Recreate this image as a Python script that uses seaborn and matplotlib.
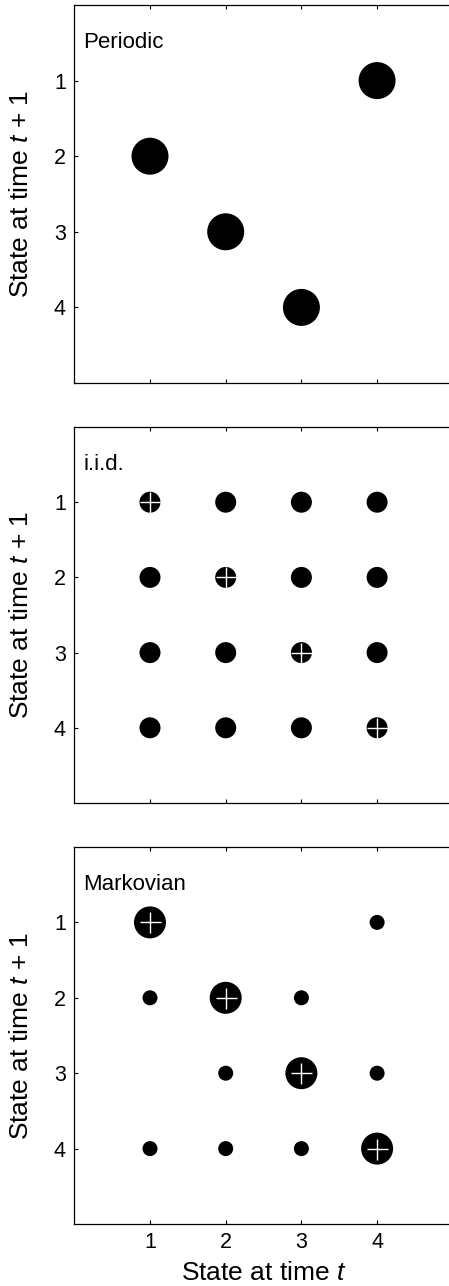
import numpy as np
import pandas as pd
import seaborn as sns
import matplotlib.pyplot as plt

states = [1, 2, 3, 4]

# transition probabilities P[next][current]
periodic = [[0, 0, 0, 1],
            [1, 0, 0, 0],
            [0, 1, 0, 0],
            [0, 0, 1, 0]]
iid = [[0.25, 0.25, 0.25, 0.25],
       [0.25, 0.25, 0.25, 0.25],
       [0.25, 0.25, 0.25, 0.25],
       [0.25, 0.25, 0.25, 0.25]]
markov = [[0.8, 0.0, 0.0, 0.1],
          [0.1, 0.8, 0.1, 0.0],
          [0.0, 0.1, 0.8, 0.1],
          [0.1, 0.1, 0.1, 0.8]]

panel_names = ["Periodic", "i.i.d.", "Markovian"]
cross_panels = [False, True, True]

# marker diameter (px) for each probability
diam_px = {1.0: 37, 0.8: 32, 0.25: 21, 0.1: 15}

def to_frame(mat):
    rows = []
    for i, nxt in enumerate(states):
        for j, cur in enumerate(states):
            p = mat[i][j]
            if p > 0:
                rows.append({"t": cur, "t1": nxt, "p": p})
    return pd.DataFrame(rows)

sns.set_theme(style="ticks")
plt.rcParams['font.family'] = ['Liberation Sans', 'DejaVu Sans']
plt.rcParams['mathtext.fontset'] = 'custom'
plt.rcParams['mathtext.it'] = 'Liberation Sans:italic'
plt.rcParams['mathtext.rm'] = 'Liberation Sans'
plt.rcParams['text.color'] = 'black'
plt.rcParams['axes.labelcolor'] = 'black'

W, H = 449, 1286
fig = plt.figure(figsize=(W / 100, H / 100), dpi=100)

panel_px = [(5, 383), (427, 803), (847, 1224)]
ax_left, ax_w = 74.3, 378.5

for k, mat in enumerate([periodic, iid, markov]):
    top, bot = panel_px[k]
    ax = fig.add_axes([ax_left / W, 1 - bot / H, ax_w / W, (bot - top) / H])
    df = to_frame(mat)
    sizes = {p: (diam_px[p] * 0.72) ** 2 for p in df["p"].unique()}
    sns.scatterplot(data=df, x="t", y="t1", size="p", sizes=sizes,
                    color="black", edgecolor="none", linewidth=0,
                    legend=False, ax=ax, zorder=3)
    if cross_panels[k]:
        diag = pd.DataFrame({"t": states, "t1": states})
        sns.scatterplot(data=diag, x="t", y="t1", marker="+", s=(21 * 0.72) ** 2,
                        color="white", linewidth=1.0, legend=False, ax=ax, zorder=4)
    ax.set_xlim(0, 5)
    ax.set_ylim(5, 0)
    ax.set_xticks(states)
    ax.set_yticks(states)
    ax.tick_params(direction="in", length=3, width=0.8, top=True, right=False,
                   labelsize=15.5, colors="black", pad=6)
    ax.spines["right"].set_visible(False)
    for sp in ax.spines.values():
        sp.set_linewidth(0.9)
        sp.set_color("black")
    ax.text(0.12, 0.5, panel_names[k], fontsize=16, va="center", ha="left", color="black")
    ax.set_ylabel("State at time $t$ + 1", fontsize=19)
    ax.yaxis.set_label_coords(-0.108, 0.5)
    if k == 2:
        ax.set_xlabel("State at time $t$", fontsize=19)
        ax.xaxis.set_label_coords(0.5, -0.098)
    else:
        ax.set_xlabel("")
        ax.tick_params(labelbottom=False)

fig.savefig("out.png", dpi=100)
